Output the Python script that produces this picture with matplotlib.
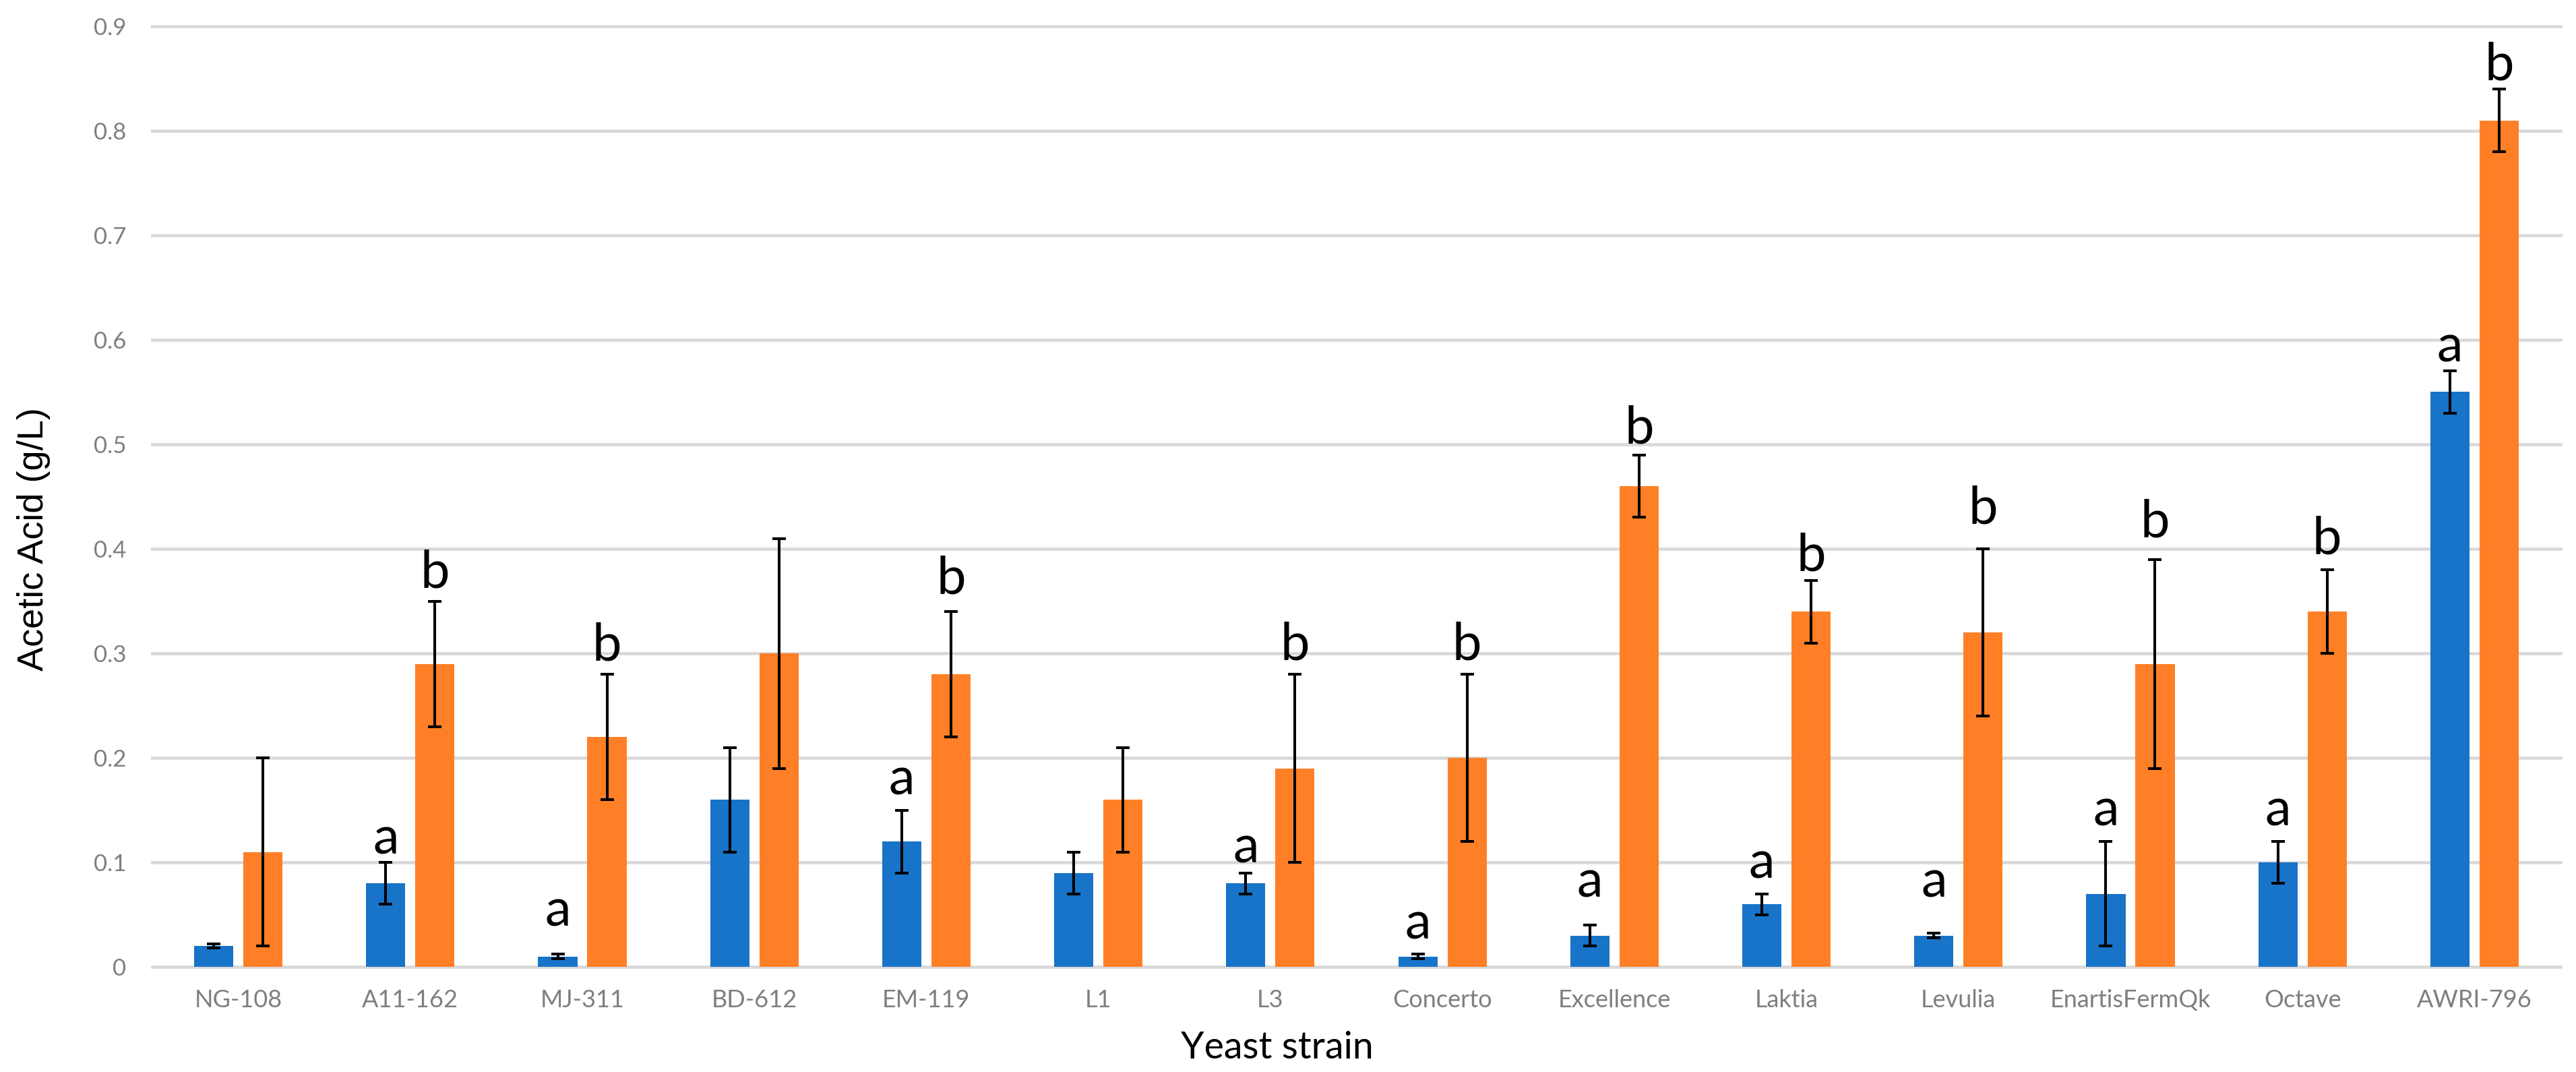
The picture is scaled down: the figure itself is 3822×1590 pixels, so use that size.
import matplotlib
matplotlib.use("Agg")
import matplotlib.pyplot as plt
import numpy as np

strains = ["NG-108", "A11-162", "MJ-311", "BD-612", "EM-119", "L1", "L3", "Concerto",
           "Excellence", "Laktia", "Levulia", "EnartisFermQk", "Octave", "AWRI-796"]
blue_vals = [0.02, 0.08, 0.01, 0.16, 0.12, 0.09, 0.08, 0.01, 0.03, 0.06, 0.03, 0.07, 0.10, 0.55]
blue_err = [0.002, 0.02, 0.002, 0.05, 0.03, 0.02, 0.01, 0.002, 0.01, 0.01, 0.002, 0.05, 0.02, 0.02]
orange_vals = [0.11, 0.29, 0.22, 0.30, 0.28, 0.16, 0.19, 0.20, 0.46, 0.34, 0.32, 0.29, 0.34, 0.81]
orange_err = [0.09, 0.06, 0.06, 0.11, 0.06, 0.05, 0.09, 0.08, 0.03, 0.03, 0.08, 0.10, 0.04, 0.03]
blue_letters = ["", "a", "a", "", "a", "", "a", "a", "a", "a", "a", "a", "a", "a"]
blue_letter_y = [0, 0.108, 0.039, 0, 0.165, 0, 0.100, 0.027, 0.067, 0.085, 0.067, 0.135, 0.135, 0.579]
orange_letters = ["", "b", "b", "", "b", "", "b", "b", "b", "b", "b", "b", "b", "b"]
orange_letter_y = [0, 0.363, 0.293, 0, 0.357, 0, 0.294, 0.294, 0.501, 0.379, 0.4245, 0.411, 0.395, 0.849]
yticks = [0, 0.1, 0.2, 0.3, 0.4, 0.5, 0.6, 0.7, 0.8, 0.9]
ytick_labels = ["0", "0.1", "0.2", "0.3", "0.4", "0.5", "0.6", "0.7", "0.8", "0.9"]

BLUE = "#1874C8"
ORANGE = "#FF7F27"
GRAY = "#7F7F7F"
GRID = "#D9D9D9"

fig = plt.figure(figsize=(38.23, 15.90), dpi=100)
ax = fig.add_axes([226 / 3823, 156 / 1590, (3799 - 226) / 3823, (1434 - 39) / 1590])

x = np.arange(len(strains))
w = 0.228
off = 0.143
ekw = dict(elinewidth=2.9, capthick=2.9, ecolor="black")
ax.bar(x - off, blue_vals, w, color=BLUE, yerr=blue_err, capsize=7.5, error_kw=ekw, zorder=2)
ax.bar(x + off, orange_vals, w, color=ORANGE, yerr=orange_err, capsize=7.5, error_kw=ekw, zorder=2)

for i in range(len(strains)):
    if blue_letters[i]:
        ax.text(x[i] - off, blue_letter_y[i], blue_letters[i], ha="center", va="baseline",
                fontsize=56, family="Lato", color="black", zorder=3)
    if orange_letters[i]:
        ax.text(x[i] + off, orange_letter_y[i], orange_letters[i], ha="center", va="baseline",
                fontsize=56, family="Lato", color="black", zorder=3)

ax.set_xlim(-0.5, len(strains) - 0.5)
ax.set_ylim(0, 0.9)
ax.set_yticks(yticks)
ax.set_yticklabels(ytick_labels)
ax.set_xticks(x)
ax.set_xticklabels(strains)
for s in ax.spines.values():
    s.set_visible(False)
ax.set_axisbelow(True)
ax.yaxis.grid(True, color=GRID, linewidth=3.4)
for gl in ax.get_ygridlines():
    gl.set_clip_on(False)
ax.tick_params(axis="both", length=0)
ax.tick_params(axis="y", pad=28, labelsize=25, labelcolor=GRAY)
ax.tick_params(axis="x", pad=24, labelsize=26, labelcolor=GRAY)
for lab in ax.get_xticklabels() + ax.get_yticklabels():
    lab.set_family("Lato")

ax.set_ylabel("Acetic Acid (g/L)", fontsize=39, family="Liberation Sans", color="black")
ax.yaxis.set_label_coords(-0.0493, 0.455)
ax.yaxis.label.set_verticalalignment("center")
ax.set_xlabel("Yeast strain", fontsize=40, family="Lato", color="black")
ax.xaxis.set_label_coords(0.467, -0.0975)
ax.xaxis.label.set_verticalalignment("baseline")

fig.savefig("out.png", dpi=100, facecolor="white")
